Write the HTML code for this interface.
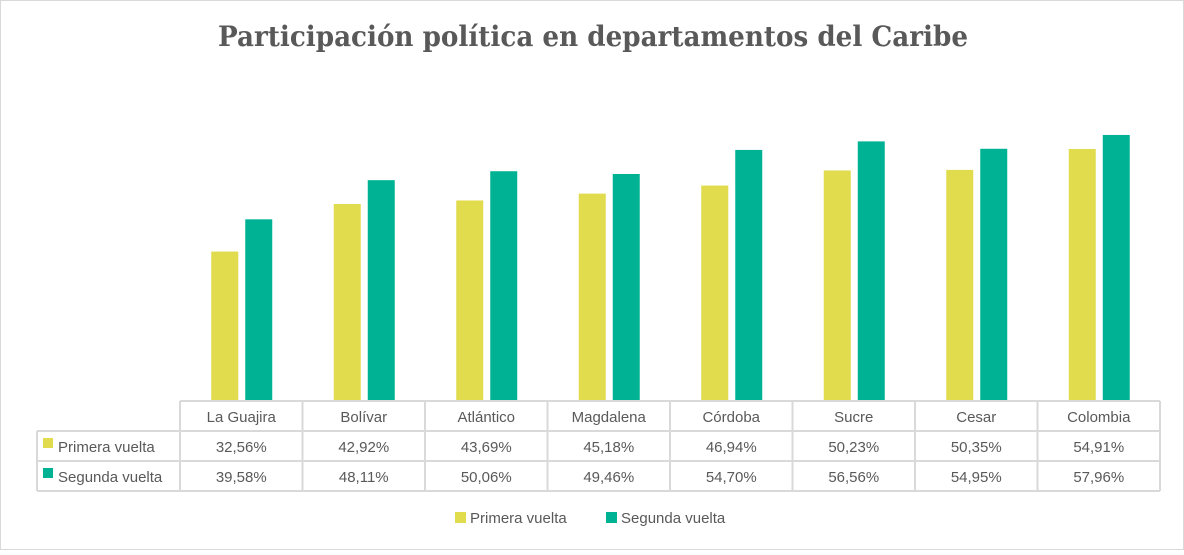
<!DOCTYPE html>
<html><head><meta charset="utf-8"><style>
body{margin:0;background:#fff}
svg text{font-family:"Liberation Sans",sans-serif;fill:#595959}
</style></head><body>
<svg width="1184" height="550" viewBox="0 0 1184 550" xmlns="http://www.w3.org/2000/svg">
<rect x="0.5" y="0.5" width="1183" height="549" fill="#fff" stroke="#d9d9d9"/>
<text x="218" y="46" textLength="750" lengthAdjust="spacingAndGlyphs" style="font-family:'DejaVu Serif','Liberation Serif',serif;font-weight:bold;font-size:28px;fill:#595959">Participación política en departamentos del Caribe</text>
<g id="bars"></g>
<g id="table"></g>
<g>
<rect x="455" y="512" width="11" height="11" fill="#E1DC4E"/>
<text x="470" y="523" font-size="15">Primera vuelta</text>
<rect x="606" y="512" width="11" height="11" fill="#00B294"/>
<text x="621" y="523" font-size="15">Segunda vuelta</text>
</g>
</svg>
<script>
const categories=["La Guajira","Bolívar","Atlántico","Magdalena","Córdoba","Sucre","Cesar","Colombia"];
const primera=[32.56,42.92,43.69,45.18,46.94,50.23,50.35,54.91];
const segunda=[39.58,48.11,50.06,49.46,54.70,56.56,54.95,57.96];
const primeraLabels=["32,56%","42,92%","43,69%","45,18%","46,94%","50,23%","50,35%","54,91%"];
const segundaLabels=["39,58%","48,11%","50,06%","49,46%","54,70%","56,56%","54,95%","57,96%"];
const NS="http://www.w3.org/2000/svg";
const x0=180,x1=1160,base=401,pxPer=4.59;
const colW=(x1-x0)/categories.length;
const xc=i=>x0+colW*(i+0.5);
const y=v=>base-v*pxPer;
function mk(tag,attrs,parent){const e=document.createElementNS(NS,tag);for(const k in attrs)e.setAttribute(k,attrs[k]);parent.appendChild(e);return e;}
const bars=document.getElementById('bars'),tbl=document.getElementById('table');
categories.forEach((c,i)=>{
  const a=mk('rect',{x:xc(i)-30,y:y(primera[i]),width:27,height:base-y(primera[i]),fill:'#E1DC4E'},bars);
  
  
  const b=mk('rect',{x:xc(i)+4,y:y(segunda[i]),width:27,height:base-y(segunda[i]),fill:'#00B294'},bars);
  
  
  const t=mk('text',{x:xc(i),y:422,'text-anchor':'middle','font-size':'15'},tbl);t.textContent=c;
  
  
  const p=mk('text',{x:xc(i),y:452,'text-anchor':'middle','font-size':'15'},tbl);p.textContent=primeraLabels[i];
  
  
  const s=mk('text',{x:xc(i),y:482,'text-anchor':'middle','font-size':'15'},tbl);s.textContent=segundaLabels[i];
  
  
});
const st={stroke:'#d9d9d9','stroke-width':'2',fill:'none'};
[[x0,401,x1,401],[37,431,x1,431],[37,461,x1,461],[37,491,x1,491],[37,431,37,491]].forEach(l=>{
  const e=mk('line',Object.assign({x1:l[0],y1:l[1],x2:l[2],y2:l[3]},st),tbl);
  
  
});
for(let i=0;i<=categories.length;i++){
  const xx=x0+colW*i;
  const e=mk('line',Object.assign({x1:xx,y1:401,x2:xx,y2:491},st),tbl);
  
  
}
const r1=mk('rect',{x:43,y:438,width:10,height:10,fill:'#E1DC4E'},tbl);


const l1=mk('text',{x:58,y:452,'font-size':'15'},tbl);l1.textContent='Primera vuelta';


const r2=mk('rect',{x:43,y:468,width:10,height:10,fill:'#00B294'},tbl);


const l2=mk('text',{x:58,y:482,'font-size':'15'},tbl);l2.textContent='Segunda vuelta';


</script>
</body></html>
